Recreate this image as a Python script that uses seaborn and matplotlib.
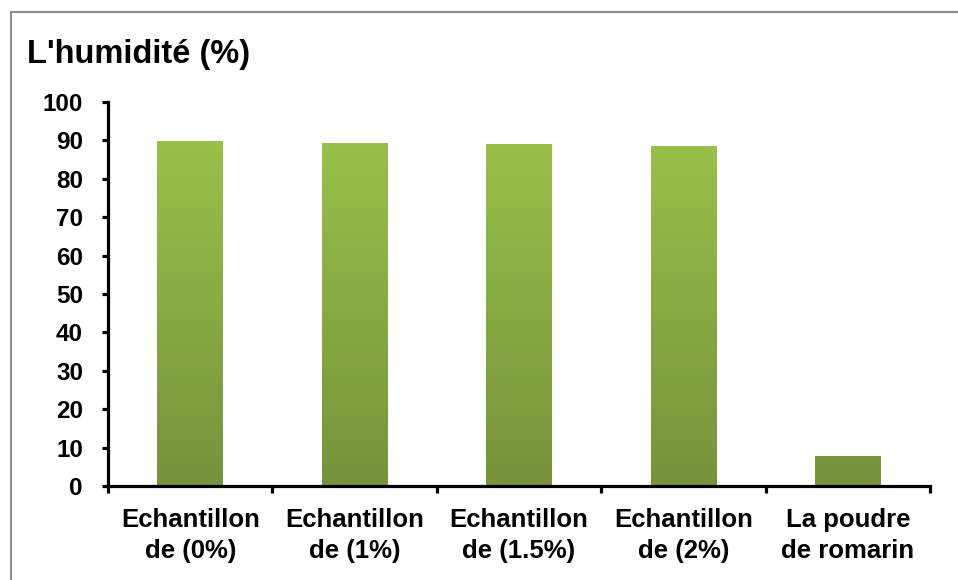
import numpy as np
import pandas as pd
import matplotlib
matplotlib.use("Agg")
import matplotlib.pyplot as plt
from matplotlib.patches import Rectangle
from matplotlib.colors import LinearSegmentedColormap
import seaborn as sns

categories = ["Echantillon\nde (0%)", "Echantillon\nde (1%)", "Echantillon\nde (1.5%)",
              "Echantillon\nde (2%)", "La poudre\nde romarin"]
humidity = [89.9, 89.4, 89.1, 88.6, 7.8]
y_ticks = [0, 10, 20, 30, 40, 50, 60, 70, 80, 90, 100]

df = pd.DataFrame({"echantillon": categories, "humidite": humidity})

sns.set_style("white")
plt.rcParams["font.family"] = ["Liberation Sans", "DejaVu Sans"]
plt.rcParams["font.weight"] = "bold"
plt.rcParams["text.color"] = "black"
plt.rcParams["xtick.color"] = "black"
plt.rcParams["ytick.color"] = "black"

W, H = 958, 580
fig = plt.figure(figsize=(W / 100, H / 100), dpi=100)
ax = fig.add_axes([108 / W, 1 - 486 / H, (930 - 108) / W, (486 - 102) / H])

sns.barplot(data=df, x="echantillon", y="humidite", ax=ax, width=0.4,
            color="#8BB043", saturation=1, edgecolor="none")

# vertical green gradient inside each bar
grad = LinearSegmentedColormap.from_list("vert", ["#76933C", "#9DC64B"])
ramp = np.linspace(0, 1, 256).reshape(-1, 1)
for p in list(ax.patches):
    x0, y0 = p.get_x(), p.get_y()
    w, h = p.get_width(), p.get_height()
    p.set_facecolor("none")
    im = ax.imshow(ramp, cmap=grad, origin="lower", aspect="auto",
                   extent=[x0, x0 + w, y0, y0 + 100], zorder=2)
    im.set_clip_path(Rectangle((x0, y0), w, h, transform=ax.transData))

ax.set_xlim(-0.5, len(categories) - 0.5)
ax.set_ylim(0, 100)
ax.set_yticks(y_ticks)
ax.set_yticklabels([str(t) for t in y_ticks], fontsize=17.5, fontweight="bold",
                   color="black")
ax.set_xticks(range(len(categories)))
ax.set_xticklabels(categories, fontsize=18.5, fontweight="bold", color="black")
for lbl in ax.get_xticklabels():
    lbl.set_linespacing(1.35)
ax.set_xticks(np.arange(-0.5, len(categories), 1.0), minor=True)
ax.set_xlabel("")
ax.set_ylabel("")

for side in ["top", "right"]:
    ax.spines[side].set_visible(False)
for side in ["left", "bottom"]:
    ax.spines[side].set_color("black")
    ax.spines[side].set_linewidth(2.3)

ax.tick_params(axis="y", which="major", direction="out", length=4, width=2.3,
               color="black", pad=14, left=True)
ax.tick_params(axis="x", which="major", length=0, pad=16)
ax.tick_params(axis="x", which="minor", direction="out", length=5, width=2.3,
               color="black", bottom=True)

fig.text(27 / W, 1 - 63 / H, "L'humidité (%)", fontsize=23.5, fontweight="bold",
         ha="left", va="baseline", color="black")

# outer chart frame
fig.add_artist(Rectangle((10.5 / W, -0.1), 1.2, 1 - 11.5 / H + 0.1,
                         transform=fig.transFigure, fill=False,
                         edgecolor="#8C8C8C", linewidth=1.5))

fig.savefig("out.png", dpi=100)
